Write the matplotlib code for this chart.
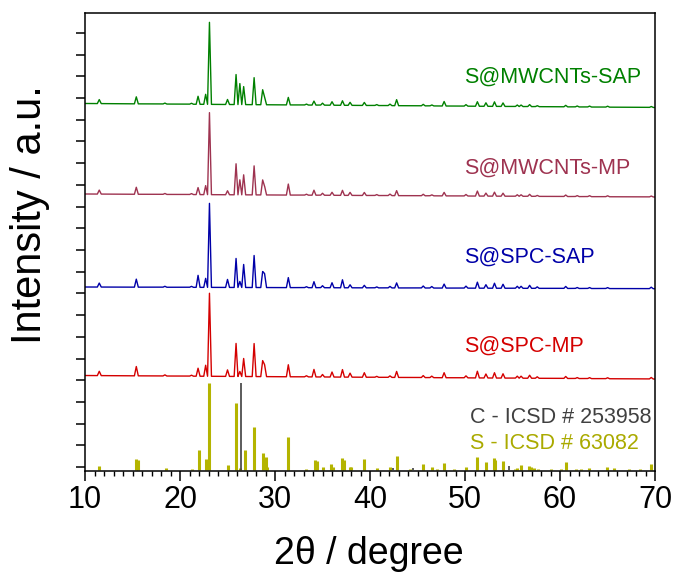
import matplotlib
matplotlib.use('Agg')
import matplotlib.pyplot as plt
import numpy as np

plt.rcParams['font.family'] = ['Liberation Sans', 'DejaVu Sans']

# peak positions (2theta)
peak_pos = [11.5, 15.4, 18.4, 21.2, 21.9, 22.7, 23.1, 25.0, 25.9, 26.3, 26.7, 27.8,
            28.7, 28.9, 31.4, 33.3, 34.1, 35.0, 36.0, 37.1, 37.9, 39.4, 40.7, 42.1,
            42.8, 45.6, 46.5, 47.8, 50.1, 51.3, 52.2, 53.1, 54.0, 55.5, 55.9, 56.8,
            57.6, 60.6, 61.8, 63.1, 65.0, 69.6]

# peak heights (a.u.) of each sample
h_spc_mp = [4.3, 9.3, 1.2, 1.0, 8, 11, 83, 6.5, 33, 5, 18, 33, 16, 12, 12, 1.2, 7.5, 2.5,
            5, 7.5, 4, 4.5, 1, 1.5, 6, 2, 1.5, 5, 2, 6.7, 4, 5.3, 4.3, 2, 2, 3, 1.5, 2,
            1, 1, 1, 1.5]
h_spc_sap = [4, 8, 1, 1, 12, 9, 84, 8, 29, 6, 23, 32, 16, 14, 10, 1, 6, 2, 5, 8, 3, 2.5,
             1, 1.5, 5, 2, 1.5, 4, 2, 6, 3.5, 5, 4, 2, 2, 3, 1.5, 2, 1, 1, 1, 1.5]
h_mw_mp = [4, 7, 1, 1, 7, 9, 82, 4, 31, 15, 20, 29, 15, 9, 11, 1, 5, 2, 3, 5, 3, 3, 1,
           1.5, 5, 1.5, 1, 3.5, 1.5, 5, 3, 4, 3, 1.5, 1.5, 2, 1, 1.5, 1, 1, 1, 1]
h_mw_sap = [4, 7, 1, 1, 8, 10, 82, 5, 30, 21, 18, 27, 15, 8, 7.5, 1, 4, 2, 3.5, 4.5, 3,
            3, 1, 1.5, 6, 1.5, 1, 4.5, 1.5, 4.5, 3.5, 4.5, 3.5, 1.5, 1.5, 2, 1, 1.5, 1,
            1, 1, 1]

# baseline level at 10 and 70 degree (stack offsets)
base_spc_mp = [91.5, 88.0]
base_spc_sap = [180.0, 178.3]
base_mw_mp = [273.0, 270.0]
base_mw_sap = [363.5, 359.5]

# reference patterns (relative intensity %)
s_ref_pos = [11.5, 15.4, 15.6, 18.5, 21.3, 22.0, 22.7, 23.1, 25.1, 25.9, 26.3, 26.8,
             27.8, 28.7, 29.0, 29.2, 31.4, 33.3, 34.2, 34.4, 35.0, 35.9, 36.1, 37.1,
             37.3, 37.9, 38.0, 39.4, 40.7, 42.1, 42.8, 44.2, 45.6, 46.5, 47.0, 47.8,
             48.8, 50.1, 51.3, 52.2, 53.1, 53.2, 54.0, 55.3, 55.5, 55.9, 56.7, 56.9,
             57.3, 57.7, 59.1, 60.1, 60.6, 61.7, 62.2, 63.1, 64.9, 65.7, 67.3, 68.4, 69.6]
s_ref_int = [5, 13, 11, 2, 1, 23, 13, 100, 6, 77, 2, 23, 49, 20, 15, 3, 38, 1, 11, 10,
             3, 7, 4, 14, 11, 4, 4, 13, 2, 3, 16, 1, 7, 3, 1, 8, 1, 4, 15, 9, 14, 12,
             10, 1, 2, 6, 5, 3, 2, 1, 1, 1, 9, 1, 1, 2, 3, 2, 1, 1, 7]
c_ref_pos = [26.4, 42.4, 44.5, 54.6]
c_ref_int = [100, 2, 2, 5]

samples = ['S@SPC-MP', 'S@SPC-SAP', 'S@MWCNTs-MP', 'S@MWCNTs-SAP']
heights = [h_spc_mp, h_spc_sap, h_mw_mp, h_mw_sap]
bases = [base_spc_mp, base_spc_sap, base_mw_mp, base_mw_sap]
colors = ['#d40000', '#0000a8', '#9e3350', '#008000']
label_y = [121, 210, 299, 390]

fig, ax = plt.subplots(figsize=(6.73, 5.74), dpi=100)
fig.subplots_adjust(left=0.1263, right=0.9733, top=0.9774, bottom=0.1794)

tt = np.linspace(10, 70, 6001)
w = 0.2
for name, h, b, c, ly in zip(samples, heights, bases, colors, label_y):
    y = np.interp(tt, [10, 70], b)
    for p, hh in zip(peak_pos, h):
        y = y + hh * np.clip(1 - np.abs(tt - p) / w, 0, None)
    ax.plot(tt, y, color=c, lw=1.0)
    ax.text(49.95, ly, name, color=c, fontsize=15.5, ha='left', va='center')

bar_bottom = -3
ax.vlines(s_ref_pos, bar_bottom, bar_bottom + np.array(s_ref_int) * 0.87,
          color='#b4b400', lw=2.2)
ax.vlines(c_ref_pos, bar_bottom, bar_bottom + np.array(c_ref_int) * 0.87,
          color='#404040', lw=1.2)
ax.text(50.5, 50, 'C - ICSD # 253958', color='#404040', fontsize=15.5, va='center')
ax.text(50.5, 24, 'S - ICSD # 63082', color='#aaaa00', fontsize=15.5, va='center')

ax.set_xlim(10, 70)
ax.set_ylim(-4, 454)
ax.set_xticks(range(10, 71, 10))
ax.set_xticks(range(10, 71), minor=True)
ax.set_yticks(np.arange(21) * 21.7)
ax.set_yticklabels([])
ax.tick_params(axis='x', which='major', direction='out', length=7, width=1.1,
               labelsize=22, top=False, pad=3)
ax.tick_params(axis='x', which='minor', direction='out', length=3.5, width=1.0,
               top=False)
ax.tick_params(axis='y', which='major', direction='out', length=6.5, width=1.1,
               right=False)
for s in ax.spines.values():
    s.set_linewidth(1.1)

ax.set_xlabel('2θ / degree', fontsize=27)
ax.xaxis.label.set_va('baseline')
ax.xaxis.set_label_coords(0.498, -0.203)
ax.set_ylabel('Intensity / a.u.', fontsize=30)
ax.yaxis.set_label_coords(-0.062, 0.559)

plt.savefig('out.png', dpi=100)
